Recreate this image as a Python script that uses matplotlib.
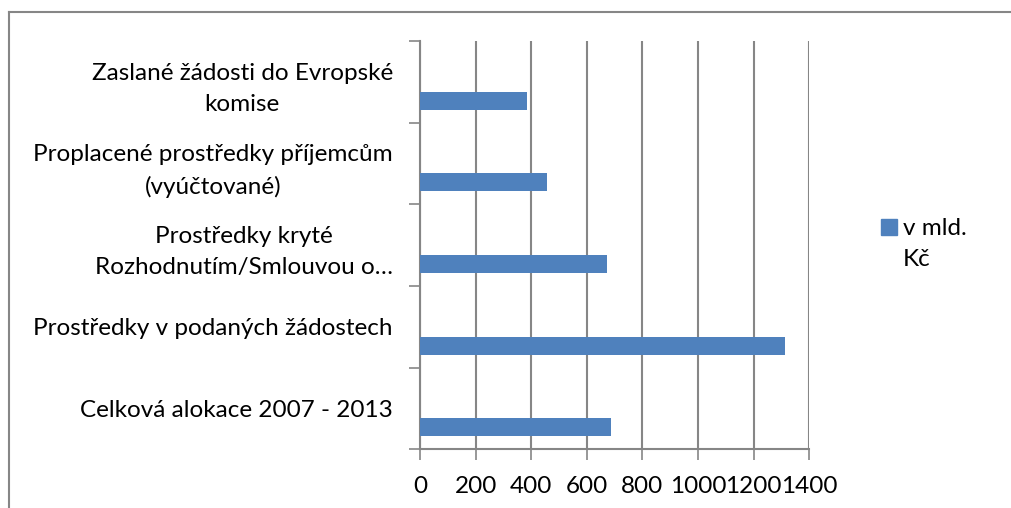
import matplotlib
matplotlib.use("Agg")
import matplotlib.pyplot as plt
from matplotlib.lines import Line2D
from matplotlib.patches import Rectangle

plt.rcParams['font.family'] = ['Lato', 'DejaVu Sans']

# data, bottom to top
categories = ["Celková alokace 2007 - 2013",
              "Prostředky v podaných žádostech",
              "Prostředky kryté\nRozhodnutím/Smlouvou o…",
              "Proplacené prostředky příjemcům\n(vyúčtované)",
              "Zaslané žádosti do Evropské\nkomise"]
values = [688, 1312, 671, 455, 384]
series_name = "v mld.\nKč"
xticks = [0, 200, 400, 600, 800, 1000, 1200, 1400]

blue = "#4F81BD"
gray = "#868686"

fig = plt.figure(figsize=(10.11, 5.08), dpi=100)
ax = fig.add_axes([420 / 1011, 1 - 449.3 / 508, 389.3 / 1011, 408.3 / 508])

pos = list(range(len(categories)))
# bars sit low in each category band, like the excel original
ax.barh([p - 0.23 for p in pos], values, height=0.22, color=blue, zorder=3)

ax.set_xlim(0, 1400)
ax.set_ylim(-0.5, len(categories) - 0.5)
ax.set_xticks(xticks)
ax.set_xticklabels([str(t) for t in xticks], fontsize=17.5)
ax.set_yticks([p + 0.5 for p in range(-1, len(categories))])
ax.set_yticklabels([])
ax.set_yticks(pos, minor=True)
ax.set_yticklabels(categories, minor=True, fontsize=17.5, ha="right",
                   multialignment="center", linespacing=1.6)
ax.tick_params(axis="y", which="minor", length=0, pad=19.5)
ax.tick_params(axis="y", which="major", length=8, width=1.2, color=gray)
ax.tick_params(axis="x", length=8, width=1.2, color=gray, pad=11)

ax.grid(axis="x", color=gray, linewidth=1.5, zorder=0)
for s in ["top", "right"]:
    ax.spines[s].set_visible(False)
for s in ["left", "bottom"]:
    ax.spines[s].set_color(gray)
    ax.spines[s].set_linewidth(1.5)

# legend drawn by hand: square beside the first line of a two-line label
fig.add_artist(Rectangle((881 / 1011, 1 - 235 / 508), 16 / 1011, 16 / 508,
                         transform=fig.transFigure, color=blue))
fig.text(903 / 1011, 1 - 218 / 508, series_name, fontsize=17.5, va="top",
         linespacing=1.6)

# chart frame (cut off at right and bottom)
fig.add_artist(Line2D([9 / 1011, 9 / 1011], [0, 1 - 12 / 508], color=gray,
                      linewidth=1.5, transform=fig.transFigure))
fig.add_artist(Line2D([9 / 1011, 1], [1 - 12 / 508, 1 - 12 / 508], color=gray,
                      linewidth=1.5, transform=fig.transFigure))

fig.savefig("out.png", dpi=100)
